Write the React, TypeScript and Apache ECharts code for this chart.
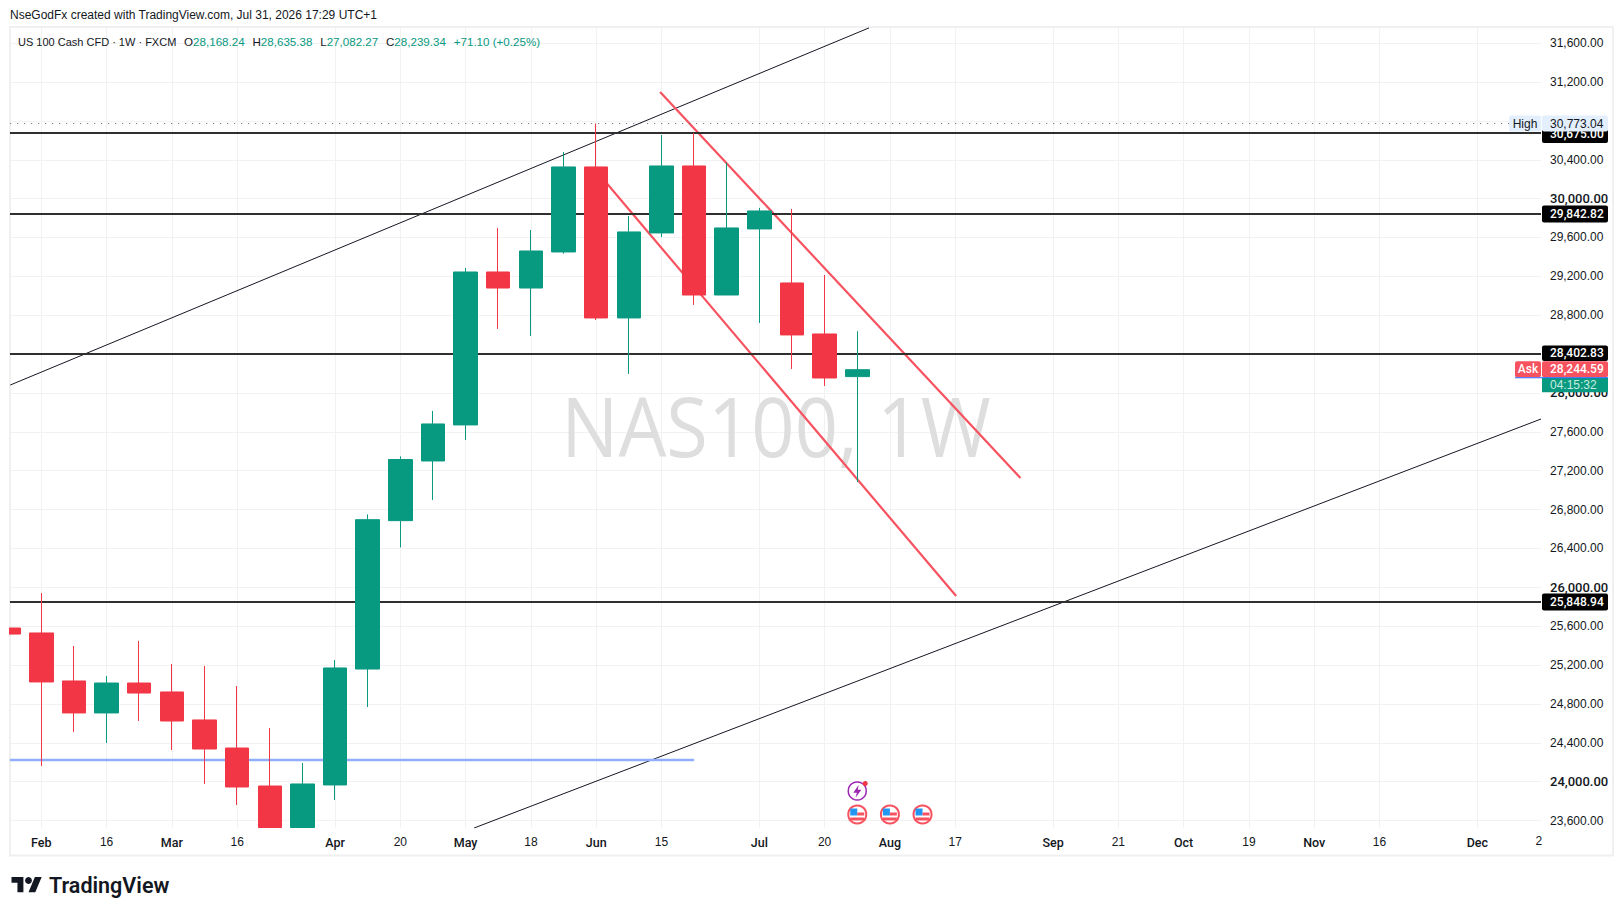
import React, { useEffect, useRef } from "react";
import * as echarts from "echarts";

const FONT = "'Liberation Sans', Arial, sans-serif";
const MEDIUM = "Roboto, 'Liberation Sans', sans-serif";
const GREEN = "#089981";
const RED = "#f23645";
const INK = "#131722";

// Weekly candles, week 0 = the "Feb" tick. Two bodies run off the bottom of the pane, so
// only their visible part is recorded.
const weeks = [-1, 0, 1, 2, 3, 4, 5, 6, 7, 8, 9, 10, 11, 12, 13, 14, 15, 16, 17, 18, 19, 20, 21, 22, 23, 24, 25];
const opens = [25581, 25530, 25036, 24707, 25015, 24923, 24635, 24346, 23955, 23528, 23966, 25159, 26686, 27300, 27671, 29245, 29080, 29451, 30326, 28772, 29647, 30336, 29008, 29688, 29132, 28607, 28168.24];
const closes = [25519, 25026, 24707, 25015, 24912, 24624, 24336, 23945, 23528, 23976, 25170, 26696, 27315, 27681, 29245, 29080, 29461, 30326, 28772, 29657, 30336, 29008, 29698, 29873, 28597, 28154, 28239.34];
const lows = [25519, 24161, 24511, 24398, 24624, 24326, 23976, 23760, 23528, 23528, 23811, 24768, 26410, 26899, 27516, 28659, 28587, 29433, 28751, 28196, 29605, 28906, 29008, 28720, 28247, 28072, 27082.27];
const highs = [25581, 25941, 25396, 25087, 25448, 25211, 25190, 24984, 24552, 24192, 25252, 26750, 27347, 27815, 29286, 29698, 29677, 30480, 30773.04, 29821, 30655, 30675, 30370, 29904, 29893, 29214, 28635.38];

// Axis ticks
const xTickWeeks = [0, 2, 4, 6, 9, 11, 13, 15, 17, 19, 22, 24, 26, 28, 31, 33, 35, 37, 39, 41, 44];
const xTickLabels = ["Feb", "16", "Mar", "16", "Apr", "20", "May", "18", "Jun", "15", "Jul", "20", "Aug", "17", "Sep", "21", "Oct", "19", "Nov", "16", "Dec"];
const yGridValues = [23600, 24000, 24400, 24800, 25200, 25600, 26000, 26400, 26800, 27200, 27600, 28000, 28400, 28800, 29200, 29600, 30000, 30400, 30800, 31200, 31600];
const yHiddenLabels = [28400, 30800];
const yBoldLabels = [24000, 26000, 28000, 30000];

// Drawings
const levels = [30675, 29842.82, 28402.83, 25848.94];
const highPrice = 30773.04;
const askPrice = 28244.59;
const blueLevel = { from: -0.96, to: 20, price: 24223 };
const blackTrends = [
  [[-0.95, 28082], [25.36, 31757]],
  [[13.26, 23523], [45.95, 27732]],
];
const redTrends = [
  [[18.96, 31097], [30.0, 27125]],
  [[17.0, 30286], [28.03, 25910]],
];
const eventWeeks = [25, 26, 27];

const money = (v: number) => v.toLocaleString("en-US", { minimumFractionDigits: 2, maximumFractionDigits: 2 });

const TV_LOGO = "M14 22H7V11H0V4h14v18zM28 22h-8l7.5-18h8L28 22z";
const BOLT = "M6 0L0 9H4L2.5 15L9 5.5H5L6 0z";
echarts.graphic.registerShape("tvlogo", echarts.graphic.extendPath(TV_LOGO, {}) as any);
echarts.graphic.registerShape("bolt", echarts.graphic.extendPath(BOLT, {}) as any);

function trendSeries(lines: number[][][], color: string, width: number) {
  return lines.map((line) => ({
    type: "line",
    data: line,
    showSymbol: false,
    symbol: "none",
    z: 2,
    lineStyle: { color, width },
    silent: true,
  }));
}

function tag(y: number, x: number, w: number, h: number, fill: string, label: string, color: string, z: number) {
  return [
    { type: "rect", z, shape: { x, y: y - h / 2, width: w, height: h, r: 2 }, style: { fill } },
    {
      type: "text",
      z: z + 1,
      style: { x: x + 8, y, text: label, fill: color, font: `500 12px ${MEDIUM}`, verticalAlign: "middle", align: "left" },
    },
  ];
}

function flagIcon(cx: number, cy: number) {
  return {
    type: "group",
    z: 20,
    children: [
      { type: "circle", shape: { cx, cy, r: 9 }, style: { fill: "#fff", stroke: "#f7525f", lineWidth: 2 } },
      { type: "rect", shape: { x: cx - 7, y: cy - 6, width: 7, height: 7 }, style: { fill: "#2196f3" } },
      { type: "rect", shape: { x: cx, y: cy - 2, width: 7, height: 3 }, style: { fill: "#f7525f" } },
      { type: "rect", shape: { x: cx - 7, y: cy + 3, width: 14, height: 3 }, style: { fill: "#f7525f" } },
    ],
  };
}

export default function App() {
  const ref = useRef<HTMLDivElement>(null);
  useEffect(() => {
    const chart = echarts.init(ref.current!, undefined, { renderer: "svg" });
    const candleData = weeks.map((w, i) => [w, opens[i], closes[i], lows[i], highs[i]]);
    const yLabelValues = yGridValues.filter((v) => !yHiddenLabels.includes(v));
    chart.setOption({
      animation: false,
      backgroundColor: "#ffffff",
      grid: { left: 10, top: 27.6, width: 1531, height: 800.4 },
      xAxis: {
        type: "value",
        min: -0.96,
        max: 45.95,
        axisLine: { show: false },
        axisTick: { show: false, customValues: xTickWeeks },
        splitLine: { show: true, lineStyle: { color: "#f2f2f2", width: 1 } },
        axisLabel: {
          customValues: xTickWeeks,
          margin: 8,
          fontFamily: FONT,
          fontSize: 12,
          color: INK,
          formatter: (v: number) => {
            const s = xTickLabels[xTickWeeks.indexOf(v)] ?? "";
            return /^[A-Z]/.test(s) ? `{m|${s}}` : s;
          },
          rich: { m: { fontFamily: MEDIUM, fontSize: 12.5, fontWeight: 500, color: INK } },
        },
      },
      yAxis: {
        type: "value",
        position: "right",
        min: 23523,
        max: 31760,
        axisLine: { show: false },
        axisTick: { show: false, customValues: yGridValues },
        splitLine: { show: true, lineStyle: { color: "#f2f2f2", width: 1 } },
        axisLabel: {
          customValues: yLabelValues,
          margin: 9,
          fontFamily: FONT,
          fontSize: 12,
          color: INK,
          formatter: (v: number) => (yBoldLabels.includes(v) ? `{b|${money(v)}}` : money(v)),
          rich: { b: { fontFamily: MEDIUM, fontSize: 13, fontWeight: 500, color: INK } },
        },
      },
      series: [
        ...trendSeries(blackTrends, "#131722", 1),
        ...trendSeries(redTrends, "#f7525f", 2.2),
        {
          type: "line",
          data: [],
          z: 1,
          silent: true,
          markLine: {
            silent: true,
            symbol: "none",
            label: { show: false },
            animation: false,
            data: [
              ...levels.map((v) => ({ yAxis: v, lineStyle: { color: "#2f2f2f", width: 2, type: "solid" } })),
              { yAxis: highPrice, lineStyle: { color: "#787b86", width: 1.2, type: [1.2, 5.8] } },
              [
                { coord: [blueLevel.from, blueLevel.price], lineStyle: { color: "#90aefc", width: 2.4, type: "solid" } },
                { coord: [blueLevel.to, blueLevel.price] },
              ],
            ],
          },
        },
        {
          type: "candlestick",
          data: candleData,
          encode: { x: 0, y: [1, 2, 3, 4] },
          barWidth: 24,
          z: 5,
          silent: true,
          itemStyle: { color: GREEN, color0: RED, borderColor: GREEN, borderColor0: RED, borderWidth: 1 },
        },
      ],
    });

    const py = (v: number) => chart.convertToPixel({ yAxisIndex: 0 }, v) as number;
    const px = (w: number) => chart.convertToPixel({ xAxisIndex: 0 }, w) as number;
    const iconY = 814.5;

    const legendRich = {
      k: { fill: INK, color: INK, font: `11px ${FONT}` },
      o: { fill: INK, color: INK, font: `11.6px ${FONT}` },
      s: { fill: INK, color: INK, font: `14px ${FONT}` },
      g: { fill: GREEN, color: GREEN, font: `11.6px ${FONT}` },
    };

    chart.setOption({
      graphic: [
        // hides the part of the first candle that lies left of the pane
        { type: "rect", z: 8, silent: true, shape: { x: 0, y: 600, width: 9, height: 60 }, style: { fill: "#ffffff" } },
        { type: "rect", z: 0, silent: true, shape: { x: 10, y: 27, width: 1603, height: 828.5 }, style: { fill: "none", stroke: "#f0f0f0", lineWidth: 2 } },
        {
          type: "text",
          z: 1,
          silent: true,
          x: 776,
          y: 425,
          scaleX: 0.925,
          style: { x: 0, y: 0, text: "NAS100, 1W", fill: "#dedede", font: `82px 'Open Sans', ${FONT}`, align: "center", verticalAlign: "middle" },
        },
        {
          type: "text",
          z: 30,
          style: { x: 10, y: 15, text: "NseGodFx created with TradingView.com, Jul 31, 2026 17:29 UTC+1", fill: INK, font: `12px ${FONT}`, verticalAlign: "middle" },
        },
        {
          type: "text",
          z: 30,
          style: {
            x: 18,
            y: 41.5,
            verticalAlign: "middle",
            font: `12px ${FONT}`,
            text: "{k|US 100 Cash CFD · 1W · FXCM}{s|  }{o|O}{g|28,168.24}{s|  }{o|H}{g|28,635.38}{s|  }{o|L}{g|27,082.27}{s|  }{o|C}{g|28,239.34}{s|  }{g|+71.10 (+0.25%)}",
            rich: legendRich,
          },
        },
        // clipped last x-axis label
        { type: "text", z: 30, style: { x: 1535.5, y: 841, text: "2", fill: INK, font: `12px ${FONT}`, verticalAlign: "middle" } },

        // price tags
        ...tag(py(levels[0]) + 1, 1542, 66, 18, "#000000", money(levels[0]), "#ffffff", 31),
        ...tag(py(levels[1]), 1542, 66, 17, "#000000", money(levels[1]), "#ffffff", 31),
        ...tag(py(levels[3]), 1542, 66, 17, "#000000", money(levels[3]), "#ffffff", 31),
        ...tag(py(levels[2]) - 0.5, 1542, 66, 15.5, "#000000", money(levels[2]), "#ffffff", 31),
        { type: "rect", z: 33, shape: { x: 1542, y: py(highPrice) - 8, width: 66, height: 16, r: 2 }, style: { fill: "#e3effd" } },
        { type: "text", z: 34, style: { x: 1550, y: py(highPrice), text: money(highPrice), fill: INK, font: `12px ${FONT}`, verticalAlign: "middle" } },
        { type: "rect", z: 33, shape: { x: 1509, y: py(highPrice) - 8, width: 32, height: 16, r: 2 }, style: { fill: "#e3effd" } },
        { type: "text", z: 34, style: { x: 1525, y: py(highPrice), text: "High", fill: INK, font: `12px ${FONT}`, align: "center", verticalAlign: "middle" } },
        ...tag(py(askPrice), 1542, 66, 16, "#f7525f", money(askPrice), "#ffffff", 35),
        { type: "rect", z: 35, shape: { x: 1515, y: py(askPrice) - 8, width: 26, height: 16, r: 2 }, style: { fill: "#f7525f" } },
        { type: "text", z: 36, style: { x: 1528, y: py(askPrice), text: "Ask", fill: "#ffffff", font: `500 12px ${MEDIUM}`, align: "center", verticalAlign: "middle" } },
        { type: "rect", z: 36, shape: { x: 1515, y: py(askPrice) + 8, width: 93, height: 1 }, style: { fill: "#2962ff" } },
        { type: "rect", z: 35, shape: { x: 1542, y: py(askPrice) + 8.5, width: 66, height: 14.5 }, style: { fill: GREEN } },
        { type: "text", z: 36, style: { x: 1550, y: py(askPrice) + 16, text: "04:15:32", fill: "#c8ecdf", font: `12px ${FONT}`, verticalAlign: "middle" } },

        // event markers
        ...eventWeeks.map((w) => flagIcon(px(w), iconY)),
        {
          type: "group",
          z: 20,
          children: [
            { type: "circle", shape: { cx: px(25), cy: 791, r: 9 }, style: { fill: "#fff", stroke: "#9c27b0", lineWidth: 1.5 } },
            { type: "bolt", x: px(25) - 4, y: 785, scaleX: 0.9, scaleY: 0.85, style: { fill: "#9c27b0" } },
            { type: "circle", shape: { cx: px(25) + 8, cy: 783.5, r: 2.5 }, style: { fill: RED } },
          ],
        },

        // brand
        { type: "tvlogo", z: 30, x: 11.5, y: 873.5, scaleX: 0.85, scaleY: 0.85, style: { fill: "#131722" } },
        { type: "circle", z: 30, shape: { cx: 28.5, cy: 880.5, r: 3.4 }, style: { fill: "#131722" } },
        { type: "text", z: 30, style: { x: 49, y: 885, text: "TradingView", fill: "#131722", font: `600 21.5px Roboto, ${FONT}`, verticalAlign: "middle" } },
      ],
    });
    return () => chart.dispose();
  }, []);
  return <div ref={ref} style={{ position: "fixed", left: 0, top: 0, width: 1623, height: 916, background: "#fff" }} />;
}
